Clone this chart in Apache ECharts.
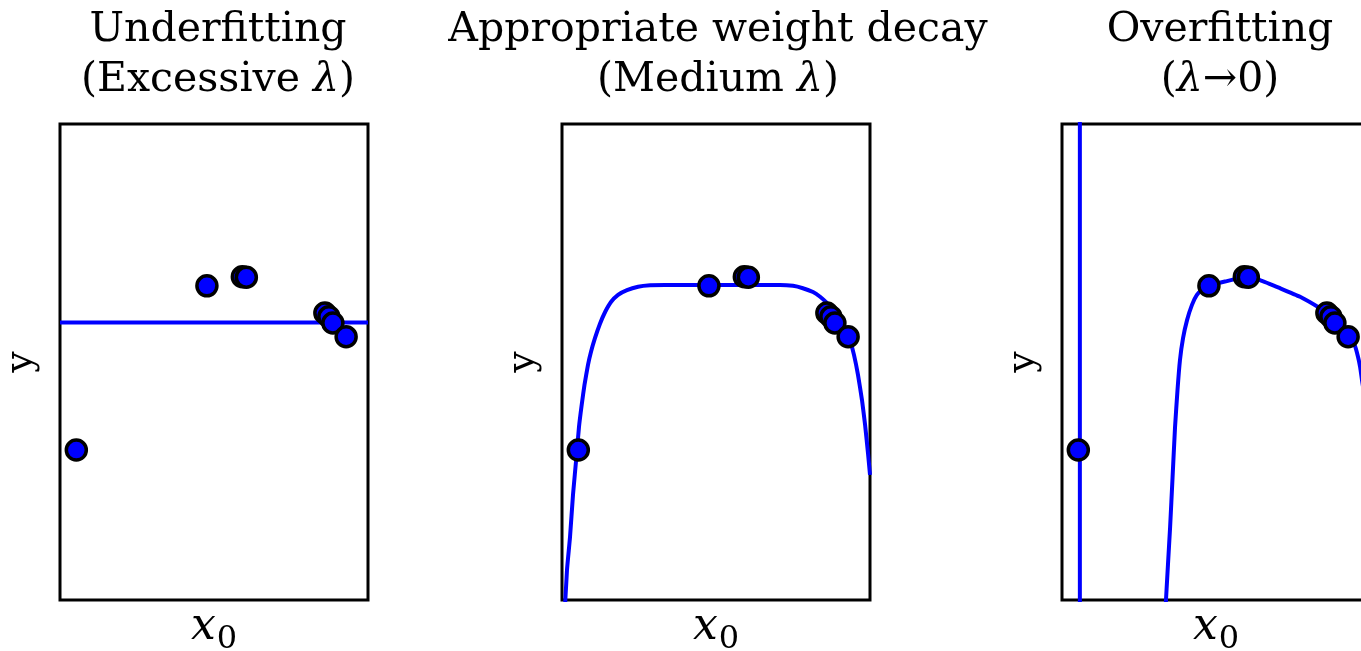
<!DOCTYPE html>
<html>
<head>
<meta charset="utf-8">
<script src="https://cdn.jsdelivr.net/npm/echarts@6/dist/echarts.min.js"></script>
<style>
  html, body { margin: 0; padding: 0; background: #fff; }
  #chart { width: 1361px; height: 651px; }
</style>
</head>
<body>
<div id="chart"></div>
<script>
// ---- data (x0 in [0,10], y in [0,10]) ----
const panelTitles = [
  'Underfitting\n(Excessive {i|λ})',
  'Appropriate weight decay\n(Medium {i|λ})',
  'Overfitting\n({i|λ}{a|→}0)'
];
const trainX = [0.53, 4.77, 5.92, 6.05, 8.60, 8.73, 8.86, 9.29];
const trainY = [3.15, 6.60, 6.79, 6.78, 6.03, 5.95, 5.82, 5.53];

const underX = [0, 10];
const underY = [5.83, 5.83];

const mediumX = [0.06, 0.162, 0.26, 0.357, 0.477, 0.552, 0.64, 0.73, 0.844, 0.94, 1.07, 1.23, 1.40, 1.59, 1.82, 2.11, 2.47, 2.86, 3.34, 5.00, 6.50, 7.08, 7.50, 7.82, 8.15, 8.38, 8.60, 8.80, 8.99, 9.19, 9.35, 9.48, 9.61, 9.74, 9.84, 9.94, 10.0];
const mediumY = [-0.6, 0.63, 1.32, 2.21, 3.07, 3.64, 4.10, 4.52, 4.94, 5.21, 5.50, 5.80, 6.05, 6.26, 6.41, 6.51, 6.58, 6.61, 6.62, 6.62, 6.62, 6.62, 6.60, 6.55, 6.47, 6.37, 6.24, 6.09, 5.92, 5.71, 5.46, 5.15, 4.73, 4.20, 3.68, 3.05, 2.63];

const overSpikeX = [0.58, 0.58];
const overSpikeY = [-1, 11];
const overX = [3.35, 3.44, 3.51, 3.59, 3.67, 3.75, 3.83, 3.93, 4.06, 4.22, 4.38, 4.58, 4.81, 5.29, 6.01, 6.43, 7.08, 7.73, 8.38, 8.70, 8.96, 9.19, 9.35, 9.51, 9.61, 9.68, 9.74, 9.84];
const overY = [-0.3, 0.74, 1.53, 2.58, 3.63, 4.41, 5.04, 5.50, 5.88, 6.20, 6.41, 6.53, 6.61, 6.69, 6.79, 6.72, 6.55, 6.37, 6.13, 5.99, 5.82, 5.67, 5.53, 5.34, 5.11, 4.89, 4.62, 4.20];

const xName = '{x|x}{s|0}';
const yName = 'y';

// ---- build ----
const zip = (a, b) => a.map((v, i) => [v, b[i]]);
const FONT = 'DejaVu Serif';
const BLUE = '#0000ff';
const gridLefts = [60, 562, 1062];
const GW = 308, GT = 124, GH = 476;

const grids = gridLefts.map(l => ({
  left: l, top: GT, width: GW, height: GH,
  outerBoundsMode: 'none', containLabel: false,
  show: true, borderColor: '#000', borderWidth: 3, backgroundColor: '#fff'
}));

const xAxes = gridLefts.map((l, i) => ({
  gridIndex: i, type: 'value', min: 0, max: 10,
  axisLine: { show: false }, axisTick: { show: false }, axisLabel: { show: false }, splitLine: { show: false },
  name: xName, nameLocation: 'middle', nameGap: 0,
  nameTextStyle: {
    rich: {
      x: { fontFamily: FONT, fontStyle: 'italic', fontSize: 44, color: '#000' },
      s: { fontFamily: FONT, fontSize: 32, color: '#000', padding: [24, 0, 0, 1] }
    }
  }
}));

const yAxes = gridLefts.map((l, i) => ({
  gridIndex: i, type: 'value', min: 0, max: 10,
  axisLine: { show: false }, axisTick: { show: false }, axisLabel: { show: false }, splitLine: { show: false },
  name: yName, nameLocation: 'middle', nameGap: 20, nameRotate: 90,
  nameTextStyle: { fontFamily: FONT, fontSize: 38, color: '#000' }
}));

const lineStyle = { color: BLUE, width: 4 };
const mkLine = (i, xs, ys) => ({
  type: 'line', xAxisIndex: i, yAxisIndex: i, data: zip(xs, ys),
  showSymbol: false, smooth: 0.15, lineStyle, clip: true, z: 2, silent: true
});
const mkScatter = (i) => ({
  type: 'scatter', xAxisIndex: i, yAxisIndex: i, data: zip(trainX, trainY),
  symbol: 'circle', symbolSize: 20,
  itemStyle: { color: BLUE, borderColor: '#000', borderWidth: 3.5, opacity: 1 },
  z: 3, silent: true
});

const series = [
  mkLine(0, underX, underY), mkScatter(0),
  mkLine(1, mediumX, mediumY), mkScatter(1),
  mkLine(2, overSpikeX, overSpikeY), mkLine(2, overX, overY), mkScatter(2)
];

const titleCenters = [218, 718, 1220];
const titles = panelTitles.map((t, i) => ({
  text: t, left: titleCenters[i], top: 5, textAlign: 'center', padding: 0,
  textStyle: {
    fontFamily: FONT, fontWeight: 'normal', fontSize: 41, color: '#000', lineHeight: 50,
    rich: {
      i: { fontFamily: FONT, fontStyle: 'italic', fontSize: 41, color: '#000', lineHeight: 50 },
      a: { fontFamily: FONT, fontSize: 41, color: '#000', lineHeight: 50 }
    }
  }
}));

const chart = echarts.init(document.getElementById('chart'), null, { renderer: 'canvas' });
chart.setOption({
  animation: false,
  backgroundColor: '#fff',
  title: titles,
  grid: grids,
  xAxis: xAxes,
  yAxis: yAxes,
  series
});
</script>
</body>
</html>
